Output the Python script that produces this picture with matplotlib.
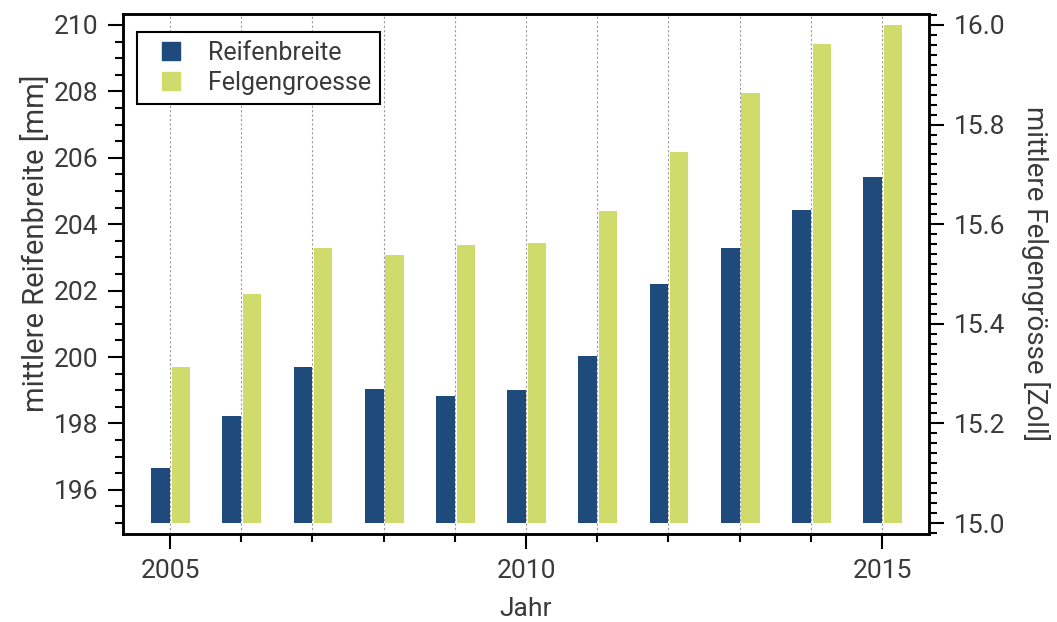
import matplotlib
matplotlib.use("Agg")
import matplotlib.pyplot as plt
from matplotlib.ticker import MultipleLocator, FormatStrFormatter, FixedLocator
from matplotlib.lines import Line2D

years = [2005, 2006, 2007, 2008, 2009, 2010, 2011, 2012, 2013, 2014, 2015]
reifenbreite = [196.67, 198.23, 199.69, 199.05, 198.82, 199.00, 200.04, 202.21, 203.28, 204.44, 205.43]
felgengroesse = [15.314, 15.460, 15.553, 15.538, 15.558, 15.563, 15.627, 15.744, 15.864, 15.962, 15.999]
major_years = [2005, 2010, 2015]

blue = "#1F4A7C"
green = "#CFDC6B"
txt = "#3a3a3a"

plt.rcParams['font.family'] = ['Roboto', 'DejaVu Sans']
plt.rcParams['font.size'] = 19
plt.rcParams['text.color'] = txt
plt.rcParams['axes.labelcolor'] = txt
plt.rcParams['xtick.color'] = 'black'
plt.rcParams['ytick.color'] = 'black'
plt.rcParams['xtick.labelcolor'] = txt
plt.rcParams['ytick.labelcolor'] = txt

fig = plt.figure(figsize=(10.57, 6.22), dpi=100)
ax = fig.add_axes([0.1164, 0.1415, 0.7625, 0.836])
ax2 = ax.twinx()

# vertical dotted grid at each year
for y in years:
    ax.axvline(y, color='#999999', linestyle=(0, (2, 2)), linewidth=0.8, zorder=0)

base_l = 195.0
base_r = 15.0
ax.bar(years, [v - base_l for v in reifenbreite], bottom=base_l, width=-0.265,
       align='edge', color=blue, zorder=2, label='Reifenbreite')
ax2.bar([y + 0.025 for y in years], [v - base_r for v in felgengroesse], bottom=base_r,
        width=0.255, align='edge', color=green, zorder=2, label='Felgengroesse')

ax.set_xlim(2004.34, 2015.66)
ax.set_ylim(194.67, 210.33)
ax2.set_ylim(15 + (194.67 - 195) / 15, 15 + (210.33 - 195) / 15)

ax.xaxis.set_major_locator(FixedLocator(major_years))
ax.xaxis.set_minor_locator(FixedLocator(years))
ax.yaxis.set_major_locator(MultipleLocator(2))
ax.yaxis.set_minor_locator(MultipleLocator(0.5))
ax2.yaxis.set_major_locator(MultipleLocator(0.2))
ax2.yaxis.set_minor_locator(MultipleLocator(0.02))
ax2.yaxis.set_major_formatter(FormatStrFormatter('%.1f'))

for a in (ax, ax2):
    for s in a.spines.values():
        s.set_linewidth(1.8)
    a.tick_params(which='major', direction='out', length=11, width=1.5, pad=7)
    a.tick_params(which='minor', direction='out', length=6, width=1.5)
    a.set_axisbelow(False)

ax.set_xlabel('Jahr', fontsize=19, labelpad=10)
ax.set_ylabel('mittlere Reifenbreite [mm]', fontsize=21, labelpad=8)
ax.yaxis.set_label_coords(-0.09, 0.56)
ax2.set_ylabel('mittlere Felgengrösse [Zoll]', fontsize=20, rotation=270, labelpad=32)

handles = [Line2D([], [], marker='s', linestyle='none', markersize=13, color=blue),
           Line2D([], [], marker='s', linestyle='none', markersize=13, color=green)]
leg = ax.legend(handles, ['Reifenbreite', 'Felgengroesse'], loc='upper left',
                bbox_to_anchor=(0.0174, 0.965), frameon=True, fancybox=False,
                edgecolor='black', framealpha=1, borderaxespad=0, fontsize=18,
                handlelength=2.0, handletextpad=0.5,
                borderpad=0.35, labelspacing=0.25)
leg.get_frame().set_linewidth(1.5)
leg.set_zorder(10)
ax.set_zorder(ax2.get_zorder() + 1)
ax.patch.set_visible(False)

fig.savefig('out.png', dpi=100)
